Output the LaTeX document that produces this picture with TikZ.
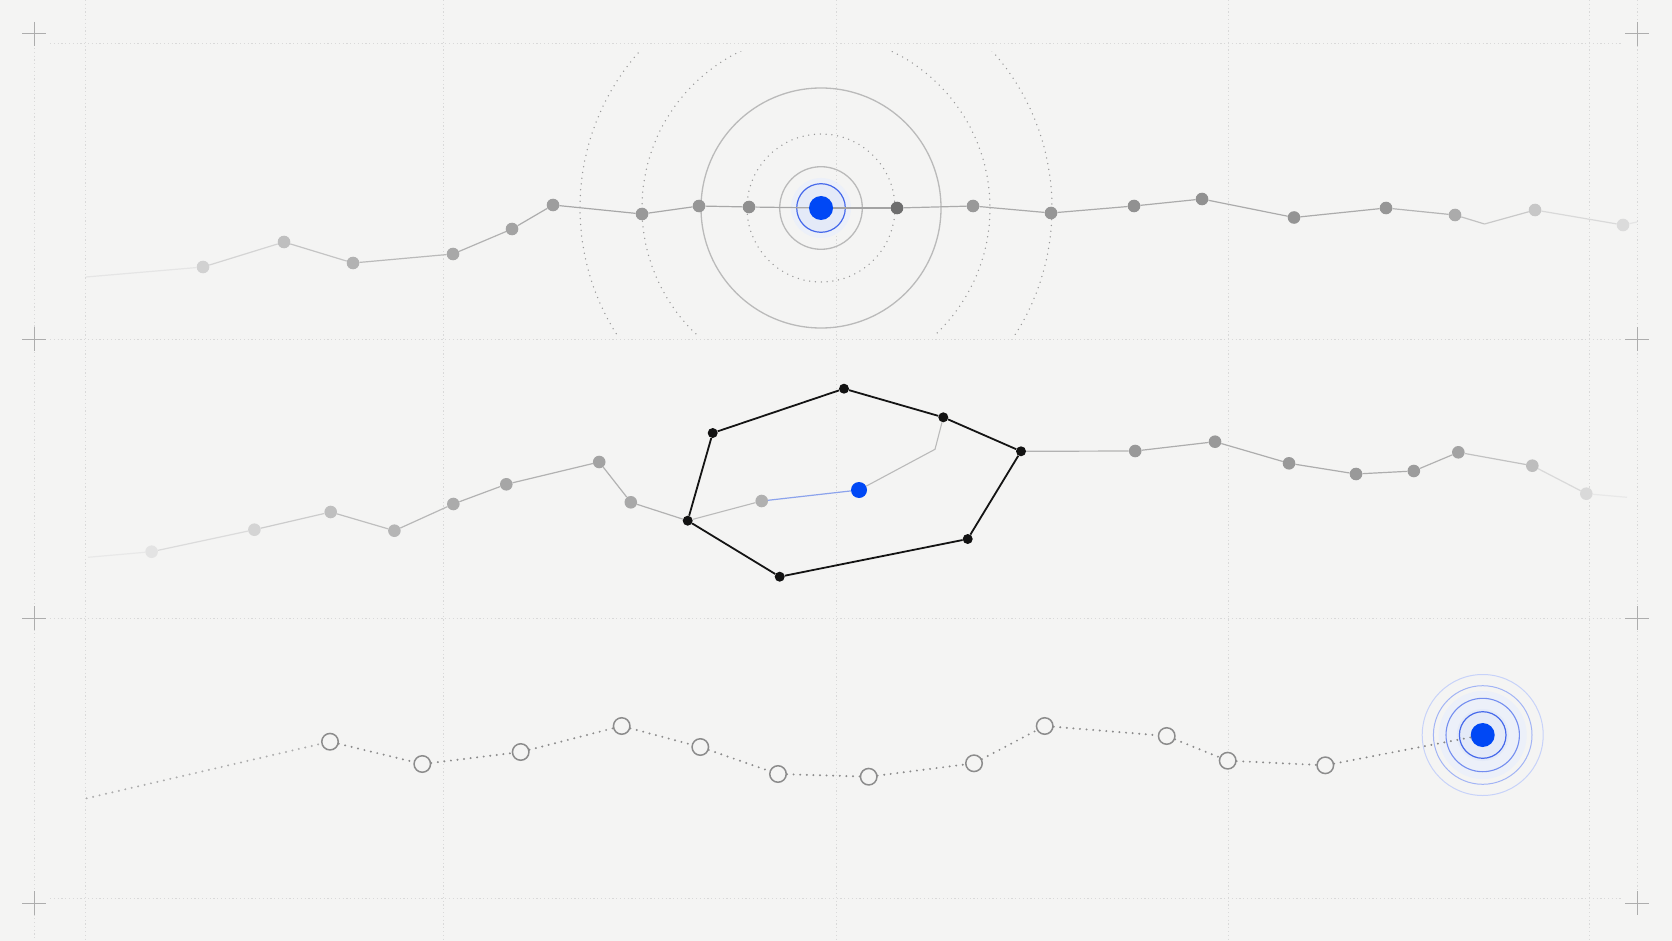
\documentclass[tikz,border=0pt]{standalone}
\usepackage{xcolor}
\definecolor{bg}{RGB}{244,244,243}
\definecolor{bluedot}{RGB}{0,72,245}
\definecolor{bluering}{RGB}{70,105,235}
\definecolor{bluelink}{RGB}{140,163,236}
\definecolor{halo}{RGB}{228,234,248}
\definecolor{halo2}{RGB}{236,240,249}
\begin{document}
\begin{tikzpicture}[x=1pt,y=-1pt,
  gridline/.style={draw=black!15, line width=0.9pt, dash pattern=on 1.2pt off 2.6pt},
  crossmark/.style={draw=black!32, line width=1pt},
  gdot/.style={circle, inner sep=0pt, minimum size=12.6pt, fill=#1},
  kdot/.style={circle, inner sep=0pt, minimum size=10pt, fill=black!93},
  bdot/.style={circle, inner sep=0pt, minimum size=#1, fill=bluedot},
  hollow/.style={circle, inner sep=0pt, minimum size=16.5pt, draw=black!45, line width=1.5pt, fill=bg},
  seg/.style={draw=#1, line width=1.2pt},
  hexedge/.style={draw=black!92, line width=1.8pt},
  dotline/.style={draw=#1, line width=2.2pt, line cap=round, dash pattern=on 0pt off 6.6pt},
  ringdot/.style={draw=black!40, line width=1.5pt, line cap=round, dash pattern=on 0pt off 5.8pt},
  ringsolid/.style={draw=black!27, line width=1.3pt}]
\fill[bg] (0,0) rectangle (1672,941);
\useasboundingbox (0,0) rectangle (1672,941);

% ---------- grid ----------
\foreach \gx in {85,443,836,1228,1589} \draw[gridline] (\gx,0) -- (\gx,941);
\draw[gridline] (34,48) -- (34,941);
\draw[gridline] (1637,0) -- (1637,890);
\foreach \gy in {43,339,618,898} \draw[gridline] (50,\gy) -- (1622,\gy);
\foreach \cx/\cy in {34/34,1637/34,34/339,1637/339,34/618,1637/618,34/903,1637/903}
  \draw[crossmark] (\cx-12,\cy) -- (\cx+12,\cy) (\cx,\cy-12) -- (\cx,\cy+12);

% ---------- row 1 : rings ----------
\coordinate (c1) at (821,208);
\coordinate (c1b) at (816,208);
\begin{scope}
  \clip (0,52) rectangle (1672,334);
  \draw[ringdot] (c1b) circle[radius=236];
  \draw[ringdot] (c1b) circle[radius=174];
\end{scope}
\draw[ringsolid] (c1) circle[radius=120];
\draw[ringdot] (c1) circle[radius=74];
\draw[ringsolid] (c1) circle[radius=41.3];
\fill[halo2] (c1) circle[radius=30];
\fill[halo] (c1) circle[radius=24];
\draw[draw=bluering, line width=1.2pt] (c1) circle[radius=24.3];

% ---------- row 1 : nodes ----------
\coordinate (r1s) at (86,277);
\node[gdot=black!18] (r1a) at (203,267) {};
\node[gdot=black!25] (r1b) at (284,242) {};
\node[gdot=black!30] (r1c) at (353,263) {};
\node[gdot=black!34] (r1d) at (453,254) {};
\node[gdot=black!36] (r1e) at (512,229) {};
\node[gdot=black!38] (r1f) at (553,205) {};
\node[gdot=black!40] (r1g) at (642,214) {};
\node[gdot=black!41] (r1h) at (699,206) {};
\node[gdot=black!44] (r1i) at (749,207) {};
\node[bdot=24pt] (r1x) at (c1) {};
\node[gdot=black!57] (r1j) at (897,208) {};
\node[gdot=black!40] (r1k) at (973,206) {};
\node[gdot=black!41] (r1l) at (1051,213) {};
\node[gdot=black!43] (r1m) at (1134,206) {};
\node[gdot=black!43] (r1n) at (1202,199) {};
\node[gdot=black!42] (r1o) at (1294,217.5) {};
\node[gdot=black!41] (r1p) at (1386,208) {};
\node[gdot=black!33] (r1q) at (1455,215) {};
\coordinate (r1v) at (1484.5,224);
\node[gdot=black!22] (r1r) at (1535,210) {};
\node[gdot=black!14] (r1t) at (1623,225) {};
\coordinate (r1z) at (1637,222);

\draw[seg=black!10] (r1s) -- (r1a);
\draw[seg=black!17] (r1a) -- (r1b);
\draw[seg=black!23] (r1b) -- (r1c);
\draw[seg=black!27] (r1c) -- (r1d);
\draw[seg=black!30] (r1d) -- (r1e);
\draw[seg=black!32] (r1e) -- (r1f);
\draw[seg=black!34] (r1f) -- (r1g);
\draw[seg=black!34] (r1g) -- (r1h);
\draw[seg=black!34] (r1h) -- (r1i);
\draw[seg=black!34] (r1i) -- (r1x);
\draw[seg=black!36] (r1x) -- (r1j);
\draw[seg=black!33] (r1j) -- (r1k);
\draw[seg=black!33] (r1k) -- (r1l);
\draw[seg=black!33] (r1l) -- (r1m);
\draw[seg=black!33] (r1m) -- (r1n);
\draw[seg=black!33] (r1n) -- (r1o);
\draw[seg=black!33] (r1o) -- (r1p);
\draw[seg=black!29] (r1p) -- (r1q);
\draw[seg=black!24] (r1q) -- (r1v);
\draw[seg=black!21] (r1v) -- (r1r);
\draw[seg=black!15] (r1r) -- (r1t);
\draw[seg=black!10] (r1t) -- (r1z);

% ---------- row 2 ----------
\coordinate (r2s) at (88,557.3);
\node[gdot=black!11] (r2a) at (151.6,551.7) {};
\node[gdot=black!17] (r2b) at (254.4,529.7) {};
\node[gdot=black!25] (r2c) at (330.7,512) {};
\node[gdot=black!29] (r2d) at (394.4,530.7) {};
\node[gdot=black!33] (r2e) at (453.3,504) {};
\node[gdot=black!35] (r2f) at (506.3,484.3) {};
\node[gdot=black!36] (r2g) at (599.2,462) {};
\node[gdot=black!34] (r2h) at (630.8,502.3) {};
\node[kdot] (k1) at (687.7,520.7) {};
\node[kdot] (k2) at (712.7,433) {};
\node[kdot] (k3) at (844,388.7) {};
\node[kdot] (k4) at (943.3,417.3) {};
\node[kdot] (k5) at (1021,451.3) {};
\node[kdot] (k6) at (967.7,539) {};
\node[kdot] (k7) at (779.7,576.7) {};
\node[gdot=black!31] (r2i) at (761.7,501) {};
\node[bdot=16pt] (r2x) at (859,490) {};
\coordinate (r2bend) at (935,449.3);
\node[gdot=black!40] (r2j) at (1135.2,451) {};
\node[gdot=black!40] (r2k) at (1215,441.7) {};
\node[gdot=black!40] (r2l) at (1289,463.3) {};
\node[gdot=black!40] (r2m) at (1356,474) {};
\node[gdot=black!39] (r2n) at (1413.8,471) {};
\node[gdot=black!36] (r2o) at (1458.3,452.3) {};
\node[gdot=black!26] (r2p) at (1532.3,465.7) {};
\node[gdot=black!15] (r2q) at (1586.3,493.7) {};
\coordinate (r2z) at (1627,497.3);

\draw[seg=black!9] (r2s) -- (r2a);
\draw[seg=black!14] (r2a) -- (r2b);
\draw[seg=black!20] (r2b) -- (r2c);
\draw[seg=black!25] (r2c) -- (r2d);
\draw[seg=black!28] (r2d) -- (r2e);
\draw[seg=black!30] (r2e) -- (r2f);
\draw[seg=black!30] (r2f) -- (r2g);
\draw[seg=black!30] (r2g) -- (r2h);
\draw[seg=black!30] (r2h) -- (k1);
\draw[draw=black!27, line width=1.1pt] (k1) -- (r2i);
\draw[draw=bluelink, line width=1.2pt] (r2i) -- (r2x);
\draw[draw=black!27, line width=1.1pt] (r2x) -- (r2bend) -- (k4);
\draw[hexedge] (k1) -- (k2) -- (k3) -- (k4) -- (k5) -- (k6) -- (k7) -- (k1);
\draw[seg=black!30] (k5) -- (r2j);
\draw[seg=black!32] (r2j) -- (r2k);
\draw[seg=black!32] (r2k) -- (r2l);
\draw[seg=black!32] (r2l) -- (r2m);
\draw[seg=black!32] (r2m) -- (r2n);
\draw[seg=black!30] (r2n) -- (r2o);
\draw[seg=black!24] (r2o) -- (r2p);
\draw[seg=black!15] (r2p) -- (r2q);
\draw[seg=black!9] (r2q) -- (r2z);

% ---------- row 3 ----------
\coordinate (c3) at (1482.7,735);
\fill[halo2] (c3) circle[radius=44];
\fill[halo] (c3) circle[radius=26];
\draw[draw=bluering!30, line width=1pt] (c3) circle[radius=60.5];
\draw[draw=bluering!50, line width=1pt] (c3) circle[radius=49.3];
\draw[draw=bluering!75, line width=1.1pt] (c3) circle[radius=36.7];
\draw[draw=bluering, line width=1.2pt] (c3) circle[radius=23.3];

\coordinate (r3s) at (86.7,798.3);
\node[hollow] (h1) at (330,741.7) {};
\node[hollow] (h2) at (422.3,764) {};
\node[hollow] (h3) at (520.7,752) {};
\node[hollow] (h4) at (621.7,726) {};
\node[hollow] (h5) at (700.3,747) {};
\node[hollow] (h6) at (778,774) {};
\node[hollow] (h7) at (868.7,776.7) {};
\node[hollow] (h8) at (974,763.3) {};
\node[hollow] (h9) at (1044.7,726) {};
\node[hollow] (h10) at (1166.7,736) {};
\node[hollow] (h11) at (1227.7,760.7) {};
\node[hollow] (h12) at (1325.3,765.3) {};
\node[bdot=24pt] (r3x) at (c3) {};

\draw[dotline=black!32] (r3s) -- (h1);
\draw[dotline=black!45] (h1) -- (h2);
\draw[dotline=black!45] (h2) -- (h3);
\draw[dotline=black!45] (h3) -- (h4);
\draw[dotline=black!45] (h4) -- (h5);
\draw[dotline=black!45] (h5) -- (h6);
\draw[dotline=black!45] (h6) -- (h7);
\draw[dotline=black!45] (h7) -- (h8);
\draw[dotline=black!45] (h8) -- (h9);
\draw[dotline=black!45] (h9) -- (h10);
\draw[dotline=black!45] (h10) -- (h11);
\draw[dotline=black!45] (h11) -- (h12);
\draw[dotline=black!47] (h12) -- (r3x);
\end{tikzpicture}
\end{document}
